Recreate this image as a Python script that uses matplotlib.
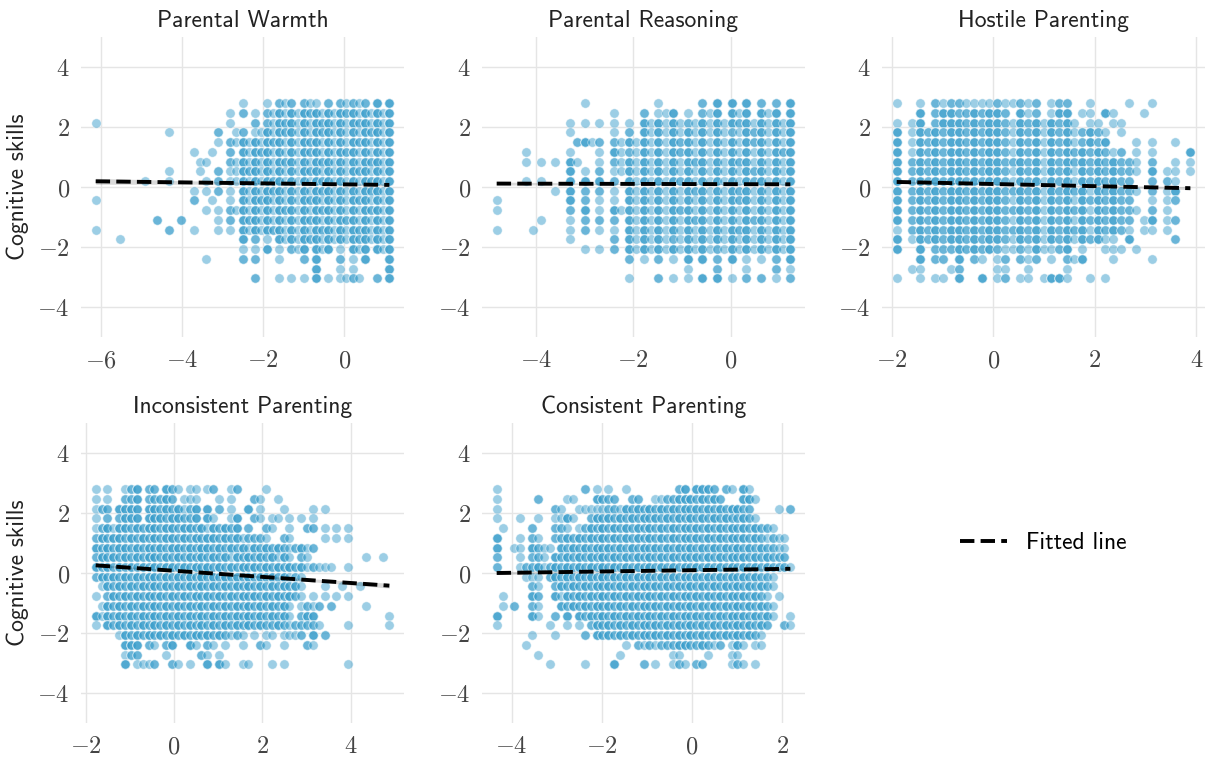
import numpy as np
import matplotlib
matplotlib.use("Agg")
import matplotlib.pyplot as plt
from matplotlib.ticker import MultipleLocator, FuncFormatter
from matplotlib.lines import Line2D

plt.rcParams["mathtext.fontset"] = "cm"

# ---------------- data ----------------
titles = ["Parental Warmth", "Parental Reasoning", "Hostile Parenting",
          "Inconsistent Parenting", "Consistent Parenting"]
y_label = "Cognitive skills"
legend_label = "Fitted line"

# outcome levels, top row first
y_levels = [2.80, 2.47, 2.15, 1.83, 1.50, 1.18, 0.85, 0.53, 0.20, -0.12,
            -0.44, -0.77, -1.09, -1.42, -1.74, -2.07, -2.39, -2.72, -3.04]

# each panel: first x level, step between x levels, and for every y level
# (top -> bottom) a row of point counts per x level ('.' = none)
p1_x0, p1_dx = -6.12, 0.1506
p1_rows = [
    '.'*24 + "1...1.212.211.2.21212.3.3",
    '.'*22 + "1.2.1.21" + "3131323131323131313",
    "1" + '.'*21 + "1...2.2" + "13231313231313231313",
    '.'*12 + "1" + '.'*7 + "2" + "..12.1" + "1313231313231313132313",
    '.'*20 + "1.21" + "3131323131323131313231313",
    '.'*16 + "1..1..2." + "3132313131323131323131313",
    '.'*17 + "11...21" + "3131313231313231313132313",
    '.'*12 + "1....1..2.11" + "3231313131323131313231313",
    '.'*8 + "1...1.....1.2.1" + "13131323131313231313132313",
    '.'*16 + "1.1.2.1." + "3131323131313231313132313",
    "1" + '.'*15 + "2..1..1." + "3132313131323131313231313",
    '.'*18 + "1.1.21" + "3131313231313231313132313",
    '.'*10 + "2...2.....1.2." + "3231313131323131323131313",
    "1" + '.'*11 + "2...1...1.1." + "3131323131313231313231313",
    '.'*4 + "1" + '.'*19 + "3.2.1.3131323131313231313",
    '.'*24 + "1.1.3.1.213.313.1.313.313",
    '.'*18 + "1" + '.'*5 + "2.2...1...2.3...2.1.3...3",
    '.'*36 + "3...1.1.....3",
    '.'*26 + "2...1.1.1.3.1.1121..2.3",
]

p2_x0, p2_dx = -4.80, 0.1505
p2_rows = [
    '.'*12 + "1" + '.'*9 + "1.....2.3.3.3.2.2.3",
    '.'*16 + "1...2.113.1.213.313.313.3",
    '.'*10 + "1.1.1.1.1." + "3131312131" + "31323131313",
    '.'*10 + "1.....1.2." + "3131313131" + "31213231313",
    '.'*11 + "2312.2131" + "3131323131" + "31313231313",
    '.'*4 + "1" + '.'*5 + "1...1.3121" + "3131323131" + "31313131323",
    '.'*4 + "1.1.1.31..1.2131" + "3131313231" + "31323131313",
    '.'*10 + "3.1.2.1131" + "3131313131" + "31313231313",
    '.'*4 + "1.1...3.3.3.2.31" + "3131323131" + "31313231313",
    '.'*8 + "1.3.2.2.1.31" + "3131313231" + "31323131313",
    "1" + '.'*9 + "3.2.1.1.31" + "3131313131" + "31323131313",
    "1" + '.'*9 + "2.3.1.3131" + "3131323131" + "31313131313",
    '.'*6 + "1...1.2.2.2.31" + "3131313231" + "31313231313",
    "1" + '.'*4 + "1" + '.'*4 + "1.2.1.1.31" + "3131313131" + "31323131313",
    '.'*10 + "1.....2.31" + "3131213131" + "31313131313",
    '.'*12 + "1.1.2.31" + "3131313131" + "21313131313",
    '.'*18 + "2." + "1.2.1.3.3." + "2.3.1.1.2.3",
    '.'*26 + "1...2...1...2.1",
    '.'*18 + "1...2.1.1.3.3.1.2.2.1.2",
]

p3_x0, p3_dx = -1.90, 0.1521
p3_rows = [
    "1..1.21221" + "111211212." + "122..1...." + "1..1.....",
    "...3.23322" + "32332.312." + "133.11.31." + "..1......",
    "1.13.23332" + "3233213231" + "3231.11.11" + ".........",
    "3.13232332" + "3233213231" + "32312321.1" + ".........",
    "3.13232332" + "3233213231" + "32312323.." + ".1.1..1..",
    "3.13232332" + "3233213231" + "3232323212" + ".1.1....3",
    "3.23232332" + "3233223231" + "3232323232" + "21.2..1.1",
    "3.23232332" + "3233213231" + "3231323232" + "21.3.11.1",
    "3.23232332" + "3233213231" + "3231323232" + "2..2.21..",
    "3.23232332" + "3233223231" + "3232313232" + "21.2.13..",
    "3.23232332" + "3233213231" + "3231323232" + "2..1.12..",
    "3.23232332" + "3233223231" + "3232313232" + "21.2.1...",
    "3.23232332" + "3233213231" + "3231323232" + "2.13.12..",
    "1.23232332" + "3233223231" + "3232313232" + "1.11.1...",
    "3.13232332" + "3233213231" + "323132311." + "3.....2..",
    "3..3.22232" + "3232112131" + "123.1..111" + ".1.......",
    "...3.22.3." + "21.12.212." + "1.213...1." + "...1.....",
    "..11...12." + "...11..1.." + "..1......." + ".........",
    "1..1.11.3." + ".3.12.11.1" + "331..1.1.." + ".........",
]

p4_x0, p4_dx = -1.77, 0.1328
p4_rows = [
    "1.1..123.2" + "2.321.11.1" + "2..12....1" + '.'*21,
    "1.1..223.2" + "2232.111.." + ".1.1...21." + ".1........" + '.'*11,
    "122.3333.3" + "32323123.3" + ".2.1..3.1." + "..1....1.1" + '.'*11,
    "1.2.2333.3" + "33233223.3" + "1..13..21." + "11.1.1.1.." + '.'*11,
    "1231332323" + "3233233231" + "32323.2..2" + "1..1..22.1" + ".1.1.......",
    "2323323232" + "3233232323" + "3232312221" + "..21.....1" + ".1.1.......",
    "3232332323" + "2323323233" + "2323231323" + "23212312.." + '.'*11,
    "2323232323" + "3232323232" + "3231323232" + "3131.21..." + "......1..1.",
    "3232323232" + "3233232323" + "2323232323" + "2323231211" + "1..1.......",
    "2323232323" + "3232323232" + "3232323232" + "323121...." + '.'*11,
    ".132323232" + "3232323232" + "3232323232" + "323231...1" + "..1..1.....",
    "1.23232323" + "2323232323" + "2323232323" + "232321.1.1" + ".1.1.......",
    ".132323232" + "3232323232" + "3232323232" + "3231.1212." + "2.....1....",
    "3132323232" + "3232323232" + "3232323232" + "3231.233.." + "..........1",
    "1.32323232" + "3232323232" + "3232323232" + "232122221." + "...1......1",
    "....132323" + "2323232323" + "232121.1.1" + "1.1112.3.2" + '.'*11,
    ".....333.2" + "1.23..31.2" + "1.1..1..21" + "..1...21.." + '.'*11,
    ".....122.." + "..1.....21" + ".1........" + '.'*21,
    ".....3.111" + "2..21.1..3" + ".31..11..." + "1.1......." + "...1.......",
]

p5_x0, p5_dx = -4.33, 0.1302
p5_rows = [
    "1........." + ".....2.1.1" + "..1......." + ".23.3332.2" + "1.31.......",
    "1......2.." + "..11...322" + "2..22..112" + "233323232." + "..331......",
    "1........." + "21..111112" + "2132323232" + "3232323232" + "3322....1.2",
    "1...1..1.." + "1131..2323" + "2323232323" + "2323232323" + "22321......",
    ".1....2..." + "221.123232" + "3232323232" + "3232323232" + "32323221...",
    "3...1.21.." + "2232323232" + "3232323232" + "3232323232" + "3232321211.",
    "3..11.3211" + ".323232323" + "2323232323" + "2323232323" + "2323232211.",
    "2...1.221." + "3232323232" + "3232323232" + "3232323232" + "3232323222.",
    "2...122312" + "3232323232" + "3232323232" + "3232323232" + "32323232221",
    ".....111.2" + "3232323232" + "3232323232" + "3232323232" + "32323221...",
    "......21.." + "2323232323" + "2323232323" + "2323232323" + "23232321...",
    ".1....32.." + "3132323232" + "3232323232" + "3232323232" + "3232321.1..",
    ".1.2..21.." + ".323232323" + "2323232323" + "2323232323" + "23232321...",
    "3.....31.." + "2.3.323232" + "3232323232" + "3232323232" + "32323231..1",
    "1........1" + "..1.1.2323" + "2323232323" + "2323232323" + "2323232..21",
    "......1..." + "1....2.323" + "2323232323" + "2323232323" + "232321.....",
    ".....1...." + ".........." + "..1.212122" + "233223212." + "131.11.....",
    ".......1.." + ".........." + ".1........" + "11....1..." + "11.........",
    ".........1" + ".....1...." + "3....2.1.." + "121.22...." + "121.1......",
]

# fitted regression lines: intercept, slope, and CI half-width at the far end
fit_intercepts = [0.088, 0.095, 0.100, 0.075, 0.093]
fit_slopes = [-0.0166, -0.004, -0.036, -0.102, 0.0215]
ci_edge = [0.10, 0.05, 0.05, 0.08, 0.05]

panels = [(p1_x0, p1_dx, p1_rows), (p2_x0, p2_dx, p2_rows),
          (p3_x0, p3_dx, p3_rows), (p4_x0, p4_dx, p4_rows),
          (p5_x0, p5_dx, p5_rows)]

# ---------------- styling ----------------
POINT_COLOR = "#3a9ecc"
TITLE_FONT = "cmss10"
GRID_COLOR = "#e5e5e5"
TICK_COLOR = "#444444"

W, H = 1208, 757
fig = plt.figure(figsize=(W / 100, H / 100), dpi=100)

col_left = [81, 482, 882]
row_top = [37, 423]
ax_w, ax_h = 323, 300


def axes_rect(r, c):
    return [col_left[c] / W, 1 - (row_top[r] + ax_h) / H, ax_w / W, ax_h / H]


def expand(x0, dx, rows):
    xs, ys = [], []
    for yv, row in zip(y_levels, rows):
        for i, ch in enumerate(row):
            if ch.isdigit():
                for _ in range(int(ch)):
                    xs.append(x0 + i * dx)
                    ys.append(yv)
    return np.array(xs), np.array(ys)


fmt = FuncFormatter(lambda v, p: r"$%d$" % round(v))

for idx, (x0, dx, rows) in enumerate(panels):
    r, c = divmod(idx, 3)
    ax = fig.add_axes(axes_rect(r, c))
    xs, ys = expand(x0, dx, rows)
    ax.scatter(xs, ys, s=46, color=POINT_COLOR, alpha=0.5,
               edgecolors="white", linewidths=0.6, zorder=2)

    # fitted line with confidence band
    xmin, xmax = xs.min(), xs.max()
    xx = np.linspace(xmin, xmax, 100)
    yy = fit_intercepts[idx] + fit_slopes[idx] * xx
    xm = xs.mean()
    h0 = 0.012
    far = max(abs(xmin - xm), abs(xmax - xm))
    k = np.sqrt(max(ci_edge[idx] ** 2 - h0 ** 2, 0)) / far
    hw = np.sqrt(h0 ** 2 + (k * (xx - xm)) ** 2)
    ax.fill_between(xx, yy - hw, yy + hw, color="black", alpha=0.15,
                    linewidth=0, zorder=3)
    ax.plot(xx, yy, color="black", linestyle="--", linewidth=2.8, zorder=4)

    ax.set_ylim(-5, 5)
    ax.yaxis.set_major_locator(MultipleLocator(2))
    ax.xaxis.set_major_locator(MultipleLocator(2))
    ax.xaxis.set_major_formatter(fmt)
    ax.yaxis.set_major_formatter(fmt)
    ax.grid(True, color=GRID_COLOR, linewidth=1.0, zorder=0)
    ax.set_axisbelow(True)
    for sp in ax.spines.values():
        sp.set_visible(False)
    ax.tick_params(length=0, labelsize=17.5, labelcolor=TICK_COLOR, pad=8)
    ax.set_title(titles[idx], family=TITLE_FONT, fontsize=17,
                 color="#222222", pad=7)
    if c == 0:
        ax.set_ylabel(y_label, family=TITLE_FONT, fontsize=17,
                      color="#222222", labelpad=6)

# legend in the empty sixth slot
lax = fig.add_axes(axes_rect(1, 2))
lax.axis("off")
handle = Line2D([], [], color="black", linestyle="--", linewidth=2.8)
lax.legend([handle], [legend_label], loc="center", bbox_to_anchor=(0.5, 0.6),
           frameon=False, prop={"family": TITLE_FONT, "size": 17},
           handlelength=2.0, handletextpad=0.8)

fig.savefig("out.png", dpi=100)
